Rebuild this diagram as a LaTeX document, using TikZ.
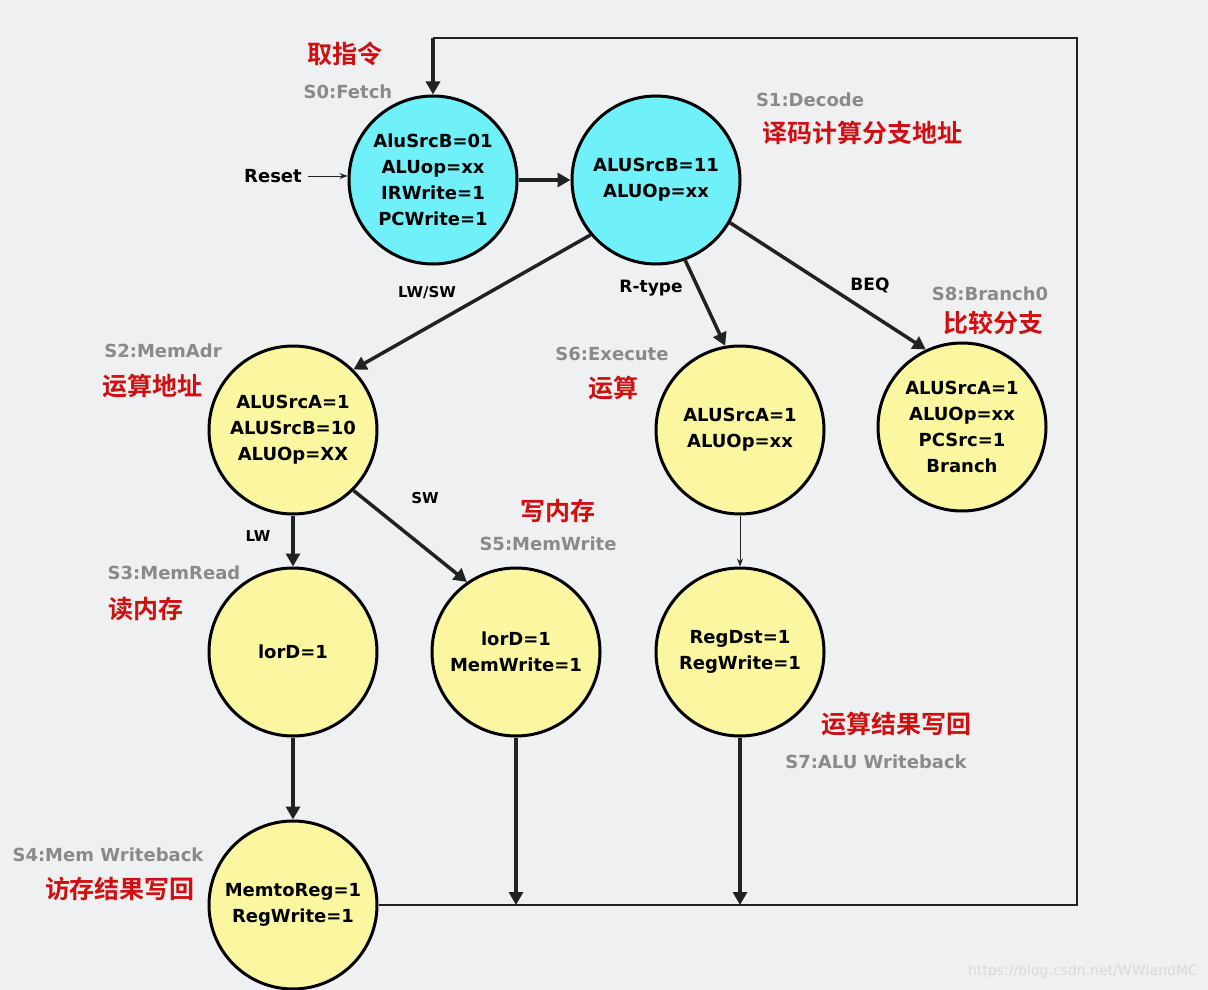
\documentclass[tikz,border=0pt]{standalone}
\usepackage{fontspec}
\setmainfont{DejaVu Sans}
\newfontfamily\cjk{Noto Sans CJK SC}[BoldFont={* Bold}]
\usetikzlibrary{arrows.meta}
\definecolor{bgc}{HTML}{EEF0F2}
\definecolor{cy}{HTML}{70F0F8}
\definecolor{ye}{HTML}{FBF7A0}
\definecolor{gr}{HTML}{8A8A8A}
\definecolor{rd}{HTML}{D01010}
\definecolor{ln}{HTML}{222222}
\begin{document}
\begin{tikzpicture}[x=1pt,y=-1pt,
 st/.style={circle,draw=black,line width=3pt,minimum size=168pt,inner sep=0pt,align=center,font=\fontsize{18}{26}\selectfont\bfseries},
 nm/.style={text=gr,font=\fontsize{18}{20}\selectfont\bfseries},
 cn/.style={text=rd,font=\cjk\fontsize{25}{28}\selectfont\bfseries},
 el/.style={font=\fontsize{15}{17}\selectfont\bfseries},
 ar/.style={line width=3.5pt,draw=ln,-{Triangle[length=13pt,width=14pt]}},
 tn/.style={line width=1pt,draw=ln,-{Stealth[length=8pt,width=6pt]}}]
\useasboundingbox[fill=bgc] (0,0) rectangle (1208,990);
\node[st,fill=cy] (s0) at (433,180) {AluSrcB=01\\ALUop=xx\\IRWrite=1\\PCWrite=1};
\node[st,fill=cy] (s1) at (656,180) {ALUSrcB=11\\ALUOp=xx};
\node[st,fill=ye] (s2) at (293,430) {ALUSrcA=1\\ALUSrcB=10\\ALUOp=XX};
\node[st,fill=ye] (s6) at (740,430) {ALUSrcA=1\\ALUOp=xx};
\node[st,fill=ye] (s8) at (962,427) {ALUSrcA=1\\ALUOp=xx\\PCSrc=1\\Branch};
\node[st,fill=ye] (s3) at (293,652) {lorD=1};
\node[st,fill=ye] (s5) at (516,652) {lorD=1\\MemWrite=1};
\node[st,fill=ye] (s7) at (740,652) {RegDst=1\\RegWrite=1};
\node[st,fill=ye] (s4) at (293,905) {MemtoReg=1\\RegWrite=1};
\coordinate (c1) at (1077,905);
\coordinate (c2) at (1077,38);
\coordinate (c3) at (433,38);
\coordinate (m5) at (516,905);
\coordinate (m7) at (740,905);
\coordinate (r0) at (308,176);
\node[font=\fontsize{18}{20}\selectfont\bfseries] (rs) at (273,176) {Reset};
\draw[line width=2.5pt,draw=ln] (s4.east) -- (c1) -- (c2) -- (c3);
\draw[ar] (c3) -- (s0.north);
\draw[tn] (r0) -- (r0 -| s0.west);
\draw[ar] (s0.east) -- (s1.west);
\draw[ar] (s1.220) -- (s2.north east);
\draw[ar] (s1.-70) -- (s6.100);
\draw[ar] (s1.-30) -- (s8.115);
\draw[ar] (s2.south) -- (s3.north);
\draw[ar] (s2.-45) -- (s5.125);
\draw[tn] (s6.south) -- (s7.north);
\draw[ar] (s3.south) -- (s4.north);
\draw[ar] (s5.south) -- (m5);
\draw[ar] (s7.south) -- (m7);
\node[cn] (t0) at (345,54) {取指令};
\node[nm] (n0) at (348,92) {S0:Fetch};
\node[nm] (n1) at (810,100) {S1:Decode};
\node[cn] (t1) at (862,133) {译码计算分支地址};
\node[el] (e1) at (427,293) {LW/SW};
\node[el,font=\fontsize{17}{19}\selectfont\bfseries] (e2) at (651,288) {R-type};
\node[el,font=\fontsize{17}{19}\selectfont\bfseries] (e3) at (870,285) {BEQ};
\node[nm] (n8) at (990,294) {S8:Branch0};
\node[cn] (t8) at (993,323) {比较分支};
\node[nm] (n2) at (163,351) {S2:MemAdr};
\node[cn] (t2) at (152,386) {运算地址};
\node[nm] (n6) at (612,354) {S6:Execute};
\node[cn] (t6) at (613,388) {运算};
\node[el] (e4) at (425,498) {SW};
\node[cn] (t5) at (558,511) {写内存};
\node[nm] (n5) at (548,544) {S5:MemWrite};
\node[el] (e5) at (258,536) {LW};
\node[nm] (n3) at (174,573) {S3:MemRead};
\node[cn] (t3) at (146,609) {读内存};
\node[cn] (t7) at (896,724) {运算结果写回};
\node[nm] (n7) at (876,762) {S7:ALU Writeback};
\node[nm] (n4) at (108,855) {S4:Mem Writeback};
\node[cn] (t4) at (120,889) {访存结果写回};
\node[text=white!70!gray,font=\fontsize{14}{16}\selectfont] (wm) at (1083,972) {https://blog.csdn.net/WWIandMC};
\end{tikzpicture}
\end{document}
